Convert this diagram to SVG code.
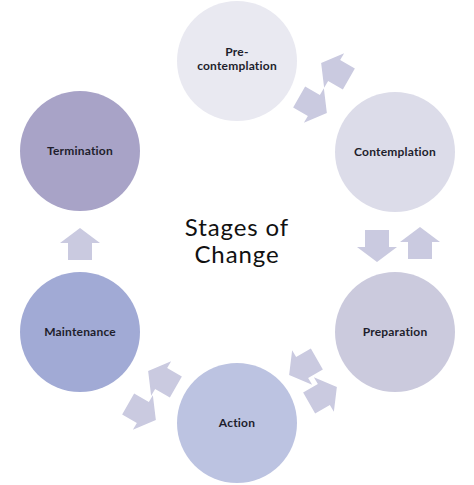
<svg xmlns="http://www.w3.org/2000/svg" width="474" height="485" viewBox="0 0 474 485">
<style>
.lbl{font-family:Lato,"Noto Sans","DejaVu Sans",sans-serif;font-size:12px;font-weight:700;fill:#1e1e2c;text-anchor:middle;letter-spacing:0.2px}
.title{font-family:Lato,"Noto Sans","DejaVu Sans",sans-serif;font-size:24px;font-weight:400;fill:#111111;text-anchor:middle;letter-spacing:0.9px}
.arr{fill:#CACAE0}
</style>
<defs>
<path id="blk" d="M0,-16 L20,-1 L12,-1 L12,16 L-12,16 L-12,-1 L-20,-1 Z"/>
</defs>
<rect width="474" height="485" fill="#ffffff"/>
<g id="connectors">
<use href="#blk" class="arr" transform="translate(313,105) rotate(120)"/>
<use href="#blk" class="arr" transform="translate(335,71) rotate(-60)"/>
<use href="#blk" class="arr" transform="translate(377,246) rotate(180)"/>
<use href="#blk" class="arr" transform="translate(420,243)"/>
<use href="#blk" class="arr" transform="translate(303,367) rotate(-120)"/>
<use href="#blk" class="arr" transform="translate(323,395) rotate(60)"/>
<use href="#blk" class="arr" transform="translate(162,379) rotate(-60)"/>
<use href="#blk" class="arr" transform="translate(142,412) rotate(120)"/>
<use href="#blk" class="arr" transform="translate(80,244)"/>
</g>
<g id="precontemplation">
<circle cx="237" cy="61" r="60" fill="#E9E9F1"/>
<text class="lbl" x="237" y="56">Pre-</text>
<text class="lbl" x="237" y="69.5">contemplation</text>
</g>
<g id="contemplation">
<circle cx="395" cy="152" r="60" fill="#DCDCE9"/>
<text class="lbl" x="395" y="155.5">Contemplation</text>
</g>
<g id="preparation">
<circle cx="395" cy="332" r="60" fill="#CBCADD"/>
<text class="lbl" x="395" y="335.5">Preparation</text>
</g>
<g id="action">
<circle cx="237" cy="423" r="60" fill="#BCC3E1"/>
<text class="lbl" x="237" y="427">Action</text>
</g>
<g id="maintenance">
<circle cx="80" cy="332" r="60" fill="#A1AAD5"/>
<text class="lbl" x="80" y="335.5">Maintenance</text>
</g>
<g id="termination">
<circle cx="80" cy="151" r="60" fill="#A8A3C7"/>
<text class="lbl" x="80" y="154.5">Termination</text>
</g>
<g id="title">
<text class="title" x="237" y="236">Stages of</text>
<text class="title" x="237" y="263">Change</text>
</g>
</svg>
